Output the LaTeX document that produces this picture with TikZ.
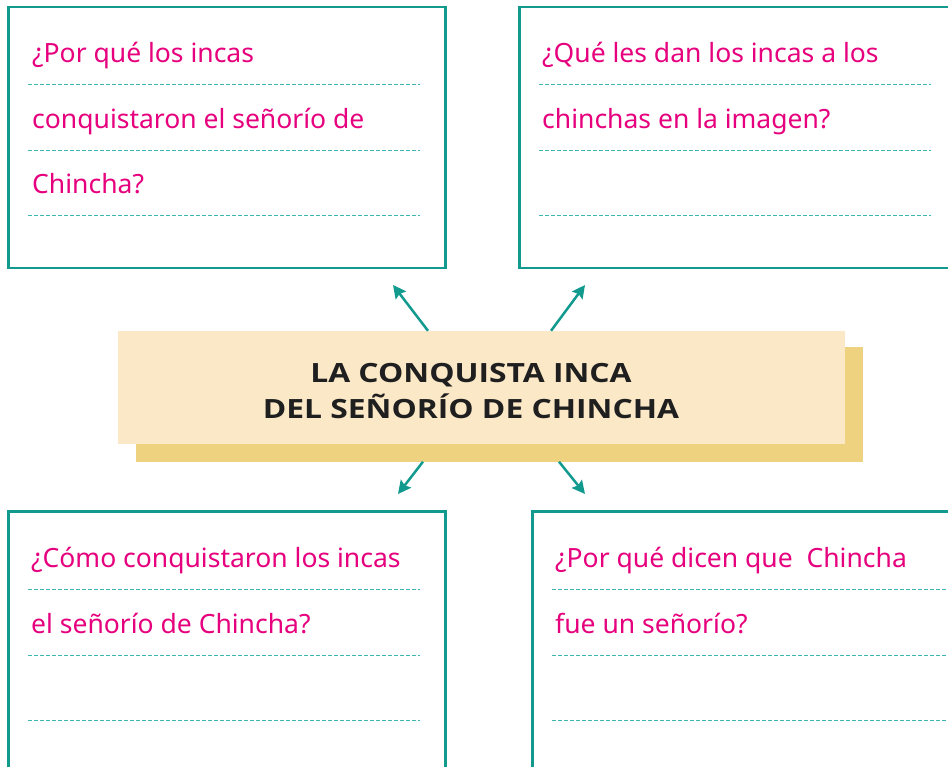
\documentclass[tikz,border=0pt]{standalone}
\usepackage{fontspec}
\setmainfont{Noto Sans}
\newfontfamily\titlefont[FakeStretch=1.2]{Open Sans}
\usetikzlibrary{arrows.meta,positioning}
\definecolor{tealbox}{HTML}{139A8F}
\definecolor{tealdash}{HTML}{3CB6B1}
\definecolor{pinktext}{HTML}{E6007E}
\definecolor{cream}{HTML}{FBE8C6}
\definecolor{goldshadow}{HTML}{EFD280}
\tikzset{
	qbox/.style={draw=tealbox,line width=2.5pt,fill=white,anchor=north west,inner sep=0pt},
	qtext/.style={text=pinktext,font=\fontsize{26.5}{30}\selectfont,anchor=base west,inner sep=0pt},
	guide/.style={tealdash,line width=1pt,dash pattern=on 4pt off 2pt},
	arr/.style={tealbox,line width=2.5pt,-{Stealth[length=13pt,width=13pt,inset=2pt]}},
}

\begin{document}
\begin{tikzpicture}[x=1pt,y=-1pt]
		\useasboundingbox (0,0) rectangle (948,767);
		\clip (0,0) rectangle (948,767);
		% question boxes
		\node[qbox,minimum width=437pt,minimum height=261pt] (boxa) at (7,6) {};
		\node[qbox,minimum width=452pt,minimum height=261pt] (boxb) at (518,6) {};
		\node[qbox,minimum width=437pt,minimum height=280pt] (boxc) at (7,510) {};
		\node[qbox,minimum width=452pt,minimum height=280pt] (boxd) at (531,510) {};
		\foreach \b/\len in {boxa/392,boxb/392,boxc/392,boxd/420}
		\foreach \dy in {79,145,210}
		\draw[guide] ([shift={(21,\dy)}]\b.north west) --++(\len,0);
		% questions
		\node[qtext] (qa1) at ([shift={(25,57)}]boxa.north west) {¿Por qué los incas};
		\node[qtext] (qa2) at ([shift={(25,123)}]boxa.north west) {conquistaron el señorío de};
		\node[qtext] (qa3) at ([shift={(25,188)}]boxa.north west) {Chincha?};
		\node[qtext] (qb1) at ([shift={(24,57)}]boxb.north west) {¿Qué les dan los incas a los};
		\node[qtext] (qb2) at ([shift={(24,123)}]boxb.north west) {chinchas en la imagen?};
		\node[qtext] (qc1) at ([shift={(24,57)}]boxc.north west) {¿Cómo conquistaron los incas};
		\node[qtext] (qc2) at ([shift={(24,123)}]boxc.north west) {el señorío de Chincha?};
		\node[qtext] (qd1) at ([shift={(24,57)}]boxd.north west) {¿Por qué dicen que\ \ Chincha};
		\node[qtext] (qd2) at ([shift={(24,123)}]boxd.north west) {fue un señorío?};
		% title
		\node[fill=goldshadow,minimum width=727pt,minimum height=114pt,inner sep=0pt] (shadow) at (499.5,404.5) {};
		\node[fill=cream,minimum width=727pt,minimum height=113pt,inner sep=0pt] (title) at (481.5,387.5) {};
		\node[align=center,font=\titlefont\bfseries\fontsize{26.5}{36}\selectfont,text=black!88] (titletext) at (471,391) {LA CONQUISTA INCA\\DEL SEÑORÍO DE CHINCHA};
		% arrows
		\coordinate (tipa) at (393,285);
		\coordinate (tipb) at (585,285);
		\coordinate (tipc) at (398,494);
		\coordinate (tipd) at (585,494);
		\draw[arr] ([xshift=-53.5pt]title.north) -- (tipa);
		\draw[arr] ([xshift=69.5pt]title.north) -- (tipb);
		\draw[arr] ([xshift=-76.5pt]shadow.south) -- (tipc);
		\draw[arr] ([xshift=59.5pt]shadow.south) -- (tipd);
	\end{tikzpicture}
\end{document}
